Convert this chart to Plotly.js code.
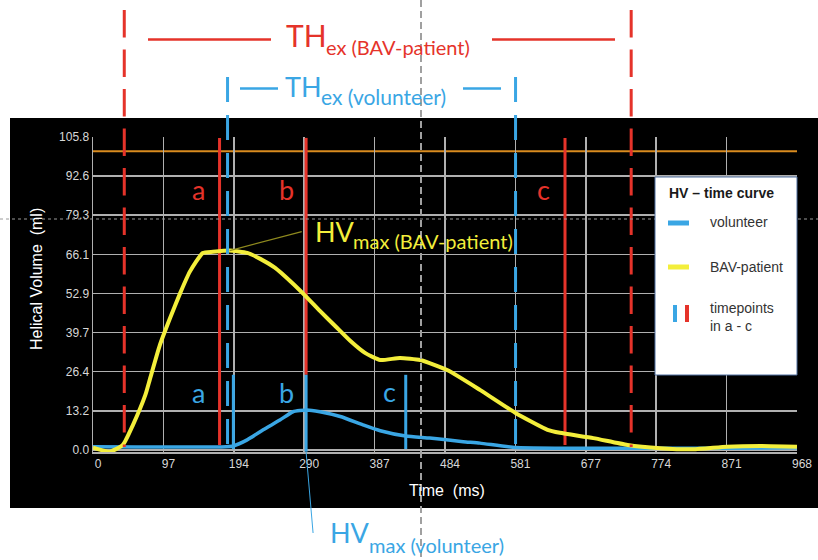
<!DOCTYPE html>
<html><head><meta charset="utf-8">
<script src="https://cdn.plot.ly/plotly-3.0.1.min.js"></script>
<style>html,body{margin:0;padding:0;background:#fff}#chart{width:818px;height:560px}</style>
</head><body><div id="chart"></div>
<script>
// ---------------- data ----------------
const timeBAV = [0, 23, 41, 55, 72, 78, 92, 106, 120, 133, 151, 165, 188, 212, 230, 250, 271, 292, 312, 333, 354, 374, 395, 422, 450, 487, 532, 581, 625, 642, 688, 735, 780, 825, 872, 918, 968];
const hvBAV   = [0.8, -0.6, 1.7, 8.5, 18.6, 23.7, 35.5, 44.6, 53.1, 60.2, 66.6, 67.0, 67.4, 66.6, 64.6, 61.6, 57.1, 52.1, 47.0, 41.9, 36.8, 32.8, 30.4, 31.1, 30.4, 27.0, 20.3, 12.5, 6.8, 5.8, 4.0, 1.7, 0.6, 0.2, 1.1, 1.35, 1.1];
const timeVol = [0, 60, 120, 165, 183, 193, 212, 234, 257, 275, 294, 312, 340, 371, 395, 430, 463, 509, 532, 581, 642, 720, 780, 870, 968];
const hvVol   = [1.1, 1.0, 1.0, 1.0, 1.1, 1.35, 3.4, 6.8, 10.1, 12.9, 13.5, 12.9, 11.3, 8.5, 6.5, 4.7, 4.0, 2.8, 2.3, 0.8, 0.6, 0.6, 0.6, 0.6, 0.7];
const timepointsBAV = [174, 293, 649];   // a, b, c (ms)
const timepointsVol = [193, 293, 430];   // a, b, c (ms)
const timepointLabels = ['a', 'b', 'c'];
const thexBAV = [43, 740];               // TH_ex start / end (ms)
const thexVol = [185, 581];
const refLevel = 101;                    // orange reference line (ml)
const xTickVals = [0, 96.8, 193.6, 290.4, 387.2, 484, 580.8, 677.6, 774.4, 871.2, 968];
const xTickText = ['0', '97', '194', '290', '387', '484', '581', '677', '774', '871', '968'];
const yTickVals = [0, 13.225, 26.45, 39.675, 52.9, 66.125, 79.35, 92.575, 105.8];
const yTickText = ['0.0', '13.2', '26.4', '39.7', '52.9', '66.1', '79.3', '92.6', '105.8'];
const legendTitle = 'HV – time curve';
const seriesNames = ['volunteer', 'BAV-patient'];

// ---------------- styling ----------------
const RED = '#e5332a', BLUE = '#3aa6e4', YELLOW = '#f3ee3b', ORANGE = '#d98b1f', GRID = '#b0b0b0';
const L = 93, T = 137, W = 704, H = 315;
const px = x => (x - L) / W;
const py = y => (T + H - y) / H;

function txt(text, x, base, size, color, anchor, family, bold) {
  const lato = !family;
  const asc = lato ? 0.987 : 0.905, desc = lato ? 0.213 : 0.212;
  return {xref: 'paper', yref: 'paper', x: px(x), y: py(base - (asc - desc) / 2 * size),
    xanchor: anchor || 'left', yanchor: 'middle', showarrow: false, text: bold ? '<b>' + text + '</b>' : text,
    font: {family: family || 'Lato', size: size, color: color}};
}

const traces = [
  {x: timeVol, y: hvVol, type: 'scatter', mode: 'lines', name: seriesNames[0],
   line: {color: BLUE, width: 3.5, shape: 'spline', smoothing: 0.5}, showlegend: false},
  {x: timeBAV, y: hvBAV, type: 'scatter', mode: 'lines', name: seriesNames[1],
   line: {color: YELLOW, width: 4, shape: 'spline', smoothing: 0.5}, showlegend: false}
];

const shapes = [];
// black panel
shapes.push({type: 'rect', xref: 'paper', yref: 'paper', x0: px(10), x1: px(818), y0: py(508), y1: py(118),
  fillcolor: '#000', line: {width: 0}, layer: 'below'});
// orange reference line
shapes.push({type: 'line', xref: 'paper', yref: 'y', x0: 0, x1: 1, y0: refLevel, y1: refLevel,
  line: {color: ORANGE, width: 2}, layer: 'between'});
// patient timepoints (red solid)
timepointsBAV.forEach((t, i) => shapes.push({type: 'line', xref: 'x', yref: 'y', x0: t, x1: t,
  y0: 105.5, y1: i === 1 ? 25.4 : 1.7, line: {color: RED, width: 3}, layer: 'between'}));
// volunteer timepoints (blue solid)
timepointsVol.forEach((t, i) => shapes.push({type: 'line', xref: 'x', yref: 'y', x0: t, x1: t,
  y0: 25.4, y1: i === 1 ? -0.6 : 0.3, line: {color: BLUE, width: 3}, layer: 'between'}));
// TH_ex dashed boundaries
thexBAV.forEach(t => shapes.push({type: 'line', xref: 'x', yref: 'paper', x0: t, x1: t,
  y0: py(10), y1: py(447), line: {color: RED, width: 3, dash: '27.5px,12px'}, layer: 'above'}));
thexVol.forEach(t => shapes.push({type: 'line', xref: 'x', yref: 'paper', x0: t, x1: t,
  y0: py(77), y1: py(447), line: {color: BLUE, width: 3, dash: '25px,13px'}, layer: 'above'}));
// bracket lines at the top
[[148, 271], [492, 615]].forEach(s => shapes.push({type: 'line', xref: 'paper', yref: 'paper',
  x0: px(s[0]), x1: px(s[1]), y0: py(39.5), y1: py(39.5), line: {color: RED, width: 2.5}}));
[[240, 278], [463, 501]].forEach(s => shapes.push({type: 'line', xref: 'paper', yref: 'paper',
  x0: px(s[0]), x1: px(s[1]), y0: py(88.5), y1: py(88.5), line: {color: BLUE, width: 2.5}}));
// HVmax pointers
const iMax = hvBAV.indexOf(Math.max(...hvBAV));
shapes.push({type: 'line', xref: 'x', yref: 'y', x0: timeBAV[iMax], y0: hvBAV[iMax], x1: 287, y1: 73.8,
  line: {color: '#8f8a1e', width: 1.2}, layer: 'above'});
shapes.push({type: 'line', xref: 'x', yref: 'paper', x0: timepointsVol[1], y0: py(452), x1: 302.6, y1: py(533),
  line: {color: BLUE, width: 1}, layer: 'above'});
// composition guide lines
shapes.push({type: 'line', xref: 'paper', yref: 'paper', x0: px(421), x1: px(421), y0: py(0), y1: py(560),
  line: {color: '#a0a0a0', width: 2, dash: '7px,4px'}, layer: 'above'});
shapes.push({type: 'line', xref: 'paper', yref: 'paper', x0: px(0), x1: px(818), y0: py(219), y1: py(219),
  line: {color: '#9a9a9a', width: 1, dash: 'dot'}, layer: 'above'});
// legend box
shapes.push({type: 'rect', xref: 'paper', yref: 'paper', x0: px(655), x1: px(797), y0: py(375), y1: py(177),
  fillcolor: '#fff', line: {color: '#4f6fa0', width: 1}, layer: 'above'});
shapes.push({type: 'line', xref: 'paper', yref: 'paper', x0: px(668), x1: px(689), y0: py(223), y1: py(223),
  line: {color: BLUE, width: 5}, layer: 'above'});
shapes.push({type: 'line', xref: 'paper', yref: 'paper', x0: px(668), x1: px(689), y0: py(267), y1: py(267),
  line: {color: YELLOW, width: 5}, layer: 'above'});
shapes.push({type: 'line', xref: 'paper', yref: 'paper', x0: px(675), x1: px(675), y0: py(305), y1: py(322),
  line: {color: BLUE, width: 4}, layer: 'above'});
shapes.push({type: 'line', xref: 'paper', yref: 'paper', x0: px(687), x1: px(687), y0: py(305), y1: py(322),
  line: {color: RED, width: 4}, layer: 'above'});

const LS = 'Liberation Sans, Arial, sans-serif';
const annotations = [
  txt('TH', 284, 47, 30, RED),
  txt('ex (BAV-patient)', 324, 55, 20, RED),
  txt('TH', 283, 97, 27, BLUE),
  txt('ex (volunteer)', 319, 105, 21, BLUE),
  txt('HV', 313, 242, 27, YELLOW),
  txt('max (BAV-patient)', 351, 249, 20, YELLOW),
  txt('HV', 328, 543, 27, BLUE),
  txt('max (volunteer)', 367, 553, 20, BLUE),
  txt(timepointLabels[0], 198, 200, 27, RED, 'center'),
  txt(timepointLabels[1], 286, 200, 27, RED, 'center'),
  txt(timepointLabels[2], 543, 200, 27, RED, 'center'),
  txt(timepointLabels[0], 198, 403, 27, BLUE, 'center'),
  txt(timepointLabels[1], 286, 403, 27, BLUE, 'center'),
  txt(timepointLabels[2], 389, 402, 27, BLUE, 'center'),
  txt('Helical Volume&nbsp; (ml)', 36, 279, 16, '#fff', 'center', LS),
  txt('Time&nbsp; (ms)', 447, 496, 16, '#fff', 'center', LS),
  txt(legendTitle, 667, 198, 14, '#1a1a1a', 'left', LS, true),
  txt(seriesNames[0], 708, 227, 14, '#333', 'left', LS),
  txt(seriesNames[1], 708, 272, 14, '#333', 'left', LS),
  txt('timepoints', 708, 313, 14, '#333', 'left', LS),
  txt('in a - c', 708, 331, 14, '#333', 'left', LS)
];
// rotate y title
annotations[14].textangle = -90;
annotations[14].y = py(279); annotations[14].x = px(36);

const layout = {
  width: 818, height: 560,
  margin: {l: L, r: 818 - L - W, t: T, b: 560 - T - H, pad: 0},
  paper_bgcolor: '#fff', plot_bgcolor: '#000',
  showlegend: false,
  xaxis: {range: [0, 968], tickvals: xTickVals, ticktext: xTickText, showgrid: true, gridcolor: GRID, gridwidth: 1.5,
    zeroline: false, showline: true, linecolor: GRID, linewidth: 1.5, ticks: '', ticklabelshift: 5,
    tickfont: {family: 'Liberation Sans Narrow, Arial Narrow, sans-serif', size: 12, color: '#d8d8d8'}},
  yaxis: {range: [-0.7, 105.8], tickvals: yTickVals, ticktext: yTickText, showgrid: true, gridcolor: GRID, gridwidth: 1.5,
    zeroline: false, showline: true, linecolor: GRID, linewidth: 1.5, ticks: '',
    tickfont: {family: 'Liberation Sans Narrow, Arial Narrow, sans-serif', size: 12, color: '#d8d8d8'}},
  shapes: shapes,
  annotations: annotations
};

Plotly.newPlot('chart', traces, layout, {displayModeBar: false, staticPlot: true});
</script>
</body></html>
